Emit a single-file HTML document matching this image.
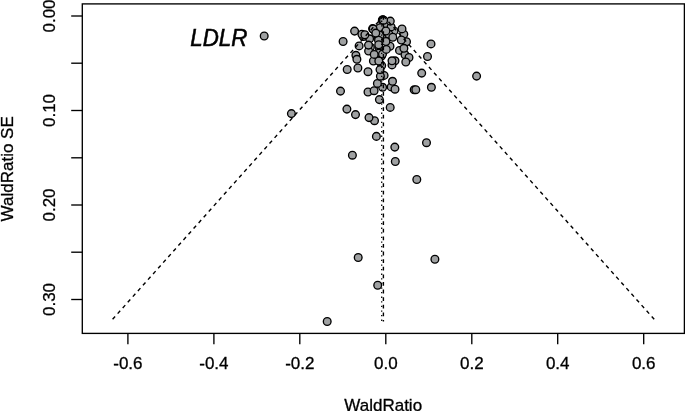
<!DOCTYPE html>
<html><head><meta charset="utf-8"><title>Funnel plot</title>
<style>
html,body{margin:0;padding:0;background:#fff;}
body{width:685px;height:411px;overflow:hidden;}
svg{display:block;}
text{font-family:"Liberation Sans",Arial,Helvetica,sans-serif;font-size:17px;fill:#000;stroke:#000;stroke-width:0.3px;}
</style></head><body>
<svg width="685" height="411" viewBox="0 0 685 411">
<rect x="0" y="0" width="685" height="411" fill="#fff"/>

<g fill="#9fa1a2" stroke="#000" stroke-width="1.35">
<circle cx="382.3" cy="20.2" r="3.85"/>
<circle cx="382.7" cy="19.8" r="3.85"/>
<circle cx="383.1" cy="20.0" r="3.85"/>
<circle cx="372.6" cy="28.6" r="3.85"/>
<circle cx="373.5" cy="29.6" r="3.85"/>
<circle cx="388.0" cy="27.0" r="3.85"/>
<circle cx="389.0" cy="30.0" r="3.85"/>
<circle cx="384.0" cy="27.5" r="3.85"/>
<circle cx="381.0" cy="31.0" r="3.85"/>
<circle cx="377.5" cy="30.0" r="3.85"/>
<circle cx="378.0" cy="36.5" r="3.85"/>
<circle cx="383.0" cy="37.0" r="3.85"/>
<circle cx="387.0" cy="38.0" r="3.85"/>
<circle cx="391.5" cy="33.0" r="3.85"/>
<circle cx="394.0" cy="31.0" r="3.85"/>
<circle cx="380.5" cy="52.0" r="3.85"/>
<circle cx="381.5" cy="56.0" r="3.85"/>
<circle cx="379.5" cy="49.0" r="3.85"/>
<circle cx="386.3" cy="24.2" r="3.85"/>
<circle cx="391.1" cy="26.9" r="3.85"/>
<circle cx="380.1" cy="27.7" r="3.85"/>
<circle cx="373.1" cy="29.0" r="3.85"/>
<circle cx="403.8" cy="34.3" r="3.85"/>
<circle cx="380.1" cy="35.1" r="3.85"/>
<circle cx="388.9" cy="34.3" r="3.85"/>
<circle cx="406.5" cy="41.7" r="3.85"/>
<circle cx="390.0" cy="46.2" r="3.85"/>
<circle cx="370.4" cy="47.2" r="3.85"/>
<circle cx="399.5" cy="50.4" r="3.85"/>
<circle cx="368.6" cy="51.0" r="3.85"/>
<circle cx="378.9" cy="53.1" r="3.85"/>
<circle cx="382.5" cy="54.1" r="3.85"/>
<circle cx="355.9" cy="55.3" r="3.85"/>
<circle cx="405.0" cy="54.8" r="3.85"/>
<circle cx="409.0" cy="57.5" r="3.85"/>
<circle cx="373.4" cy="61.0" r="3.85"/>
<circle cx="395.0" cy="60.8" r="3.85"/>
<circle cx="392.0" cy="64.9" r="3.85"/>
<circle cx="384.1" cy="75.4" r="3.85"/>
<circle cx="414.2" cy="89.8" r="3.85"/>
<circle cx="391.2" cy="86.9" r="3.85"/>
<circle cx="381.7" cy="65.6" r="3.85"/>
<circle cx="264.2" cy="36.0" r="3.85"/>
<circle cx="291.4" cy="113.6" r="3.85"/>
<circle cx="476.6" cy="76.1" r="3.85"/>
<circle cx="327.2" cy="321.5" r="3.85"/>
<circle cx="358.2" cy="257.5" r="3.85"/>
<circle cx="434.9" cy="259.3" r="3.85"/>
<circle cx="377.7" cy="285.3" r="3.85"/>
<circle cx="416.8" cy="179.5" r="3.85"/>
<circle cx="395.3" cy="161.5" r="3.85"/>
<circle cx="352.4" cy="155.2" r="3.85"/>
<circle cx="394.8" cy="147.1" r="3.85"/>
<circle cx="426.5" cy="142.7" r="3.85"/>
<circle cx="376.4" cy="136.4" r="3.85"/>
<circle cx="374.5" cy="120.7" r="3.85"/>
<circle cx="369.0" cy="117.6" r="3.85"/>
<circle cx="355.5" cy="114.6" r="3.85"/>
<circle cx="346.9" cy="109.1" r="3.85"/>
<circle cx="390.2" cy="107.4" r="3.85"/>
<circle cx="379.4" cy="99.6" r="3.85"/>
<circle cx="340.5" cy="91.1" r="3.85"/>
<circle cx="368.0" cy="92.0" r="3.85"/>
<circle cx="374.1" cy="90.7" r="3.85"/>
<circle cx="382.6" cy="87.3" r="3.85"/>
<circle cx="395.0" cy="89.2" r="3.85"/>
<circle cx="415.8" cy="89.7" r="3.85"/>
<circle cx="431.4" cy="87.3" r="3.85"/>
<circle cx="377.4" cy="83.4" r="3.85"/>
<circle cx="392.5" cy="81.3" r="3.85"/>
<circle cx="380.4" cy="76.2" r="3.85"/>
<circle cx="421.7" cy="73.1" r="3.85"/>
<circle cx="347.2" cy="69.5" r="3.85"/>
<circle cx="357.9" cy="68.0" r="3.85"/>
<circle cx="368.0" cy="71.7" r="3.85"/>
<circle cx="380.0" cy="69.6" r="3.85"/>
<circle cx="392.0" cy="60.8" r="3.85"/>
<circle cx="405.8" cy="62.0" r="3.85"/>
<circle cx="378.8" cy="61.0" r="3.85"/>
<circle cx="356.9" cy="59.3" r="3.85"/>
<circle cx="374.2" cy="54.4" r="3.85"/>
<circle cx="386.3" cy="49.4" r="3.85"/>
<circle cx="403.9" cy="48.3" r="3.85"/>
<circle cx="427.5" cy="56.5" r="3.85"/>
<circle cx="431.0" cy="43.9" r="3.85"/>
<circle cx="343.1" cy="41.5" r="3.85"/>
<circle cx="359.1" cy="45.9" r="3.85"/>
<circle cx="369.6" cy="38.8" r="3.85"/>
<circle cx="368.5" cy="45.1" r="3.85"/>
<circle cx="378.5" cy="40.2" r="3.85"/>
<circle cx="385.9" cy="41.5" r="3.85"/>
<circle cx="378.7" cy="44.7" r="3.85"/>
<circle cx="401.3" cy="40.0" r="3.85"/>
<circle cx="363.3" cy="36.5" r="3.85"/>
<circle cx="392.8" cy="37.2" r="3.85"/>
<circle cx="354.6" cy="31.1" r="3.85"/>
<circle cx="361.9" cy="34.3" r="3.85"/>
<circle cx="364.9" cy="34.8" r="3.85"/>
<circle cx="375.8" cy="33.1" r="3.85"/>
<circle cx="385.9" cy="31.0" r="3.85"/>
<circle cx="402.0" cy="28.9" r="3.85"/>
<circle cx="390.3" cy="21.1" r="3.85"/>
<circle cx="383.6" cy="20.3" r="3.85"/>
</g>
<g stroke="#000" stroke-width="1.4" fill="none" stroke-dasharray="3.8 3.8">
<path d="M383.4 16 L111.5 320.5"/><path d="M383.4 16 L655.3 320.5"/><path d="M383.4 16 V321.5"/>
</g>
<path d="M381.7 16 V321.5" stroke="#000" stroke-width="1.25" fill="none" stroke-dasharray="1.3 3.3"/>
<rect x="82.3" y="3.9" width="602.1" height="329.5" fill="none" stroke="#000" stroke-width="1.35"/>
<g stroke="#000" stroke-width="1.35" fill="none">
<path d="M127.9 333.4 V344.3"/>
<path d="M213.9 333.4 V344.3"/>
<path d="M299.8 333.4 V344.3"/>
<path d="M385.8 333.4 V344.3"/>
<path d="M471.8 333.4 V344.3"/>
<path d="M557.7 333.4 V344.3"/>
<path d="M643.7 333.4 V344.3"/>
<path d="M82.3 16.0 H71.2"/>
<path d="M82.3 63.2 H71.2"/>
<path d="M82.3 110.5 H71.2"/>
<path d="M82.3 157.8 H71.2"/>
<path d="M82.3 205.0 H71.2"/>
<path d="M82.3 252.2 H71.2"/>
<path d="M82.3 299.5 H71.2"/>
</g>
<text x="127.9" y="368.7" text-anchor="middle">-0.6</text>
<text x="213.9" y="368.7" text-anchor="middle">-0.4</text>
<text x="299.8" y="368.7" text-anchor="middle">-0.2</text>
<text x="385.8" y="368.7" text-anchor="middle">0.0</text>
<text x="471.8" y="368.7" text-anchor="middle">0.2</text>
<text x="557.7" y="368.7" text-anchor="middle">0.4</text>
<text x="643.7" y="368.7" text-anchor="middle">0.6</text>
<text transform="translate(55.4 16.0) rotate(-90)" text-anchor="middle">0.00</text>
<text transform="translate(55.4 110.5) rotate(-90)" text-anchor="middle">0.10</text>
<text transform="translate(55.4 205.0) rotate(-90)" text-anchor="middle">0.20</text>
<text transform="translate(55.4 299.5) rotate(-90)" text-anchor="middle">0.30</text>
<text x="383.2" y="410.6" text-anchor="middle">WaldRatio</text>
<text transform="translate(13.2 168.8) rotate(-90)" text-anchor="middle">WaldRatio SE</text>
<text x="190.3" y="46.2" font-style="italic" style="font-size:24.5px;stroke-width:0.6px" textLength="57" lengthAdjust="spacingAndGlyphs">LDLR</text>
</svg></body></html>
